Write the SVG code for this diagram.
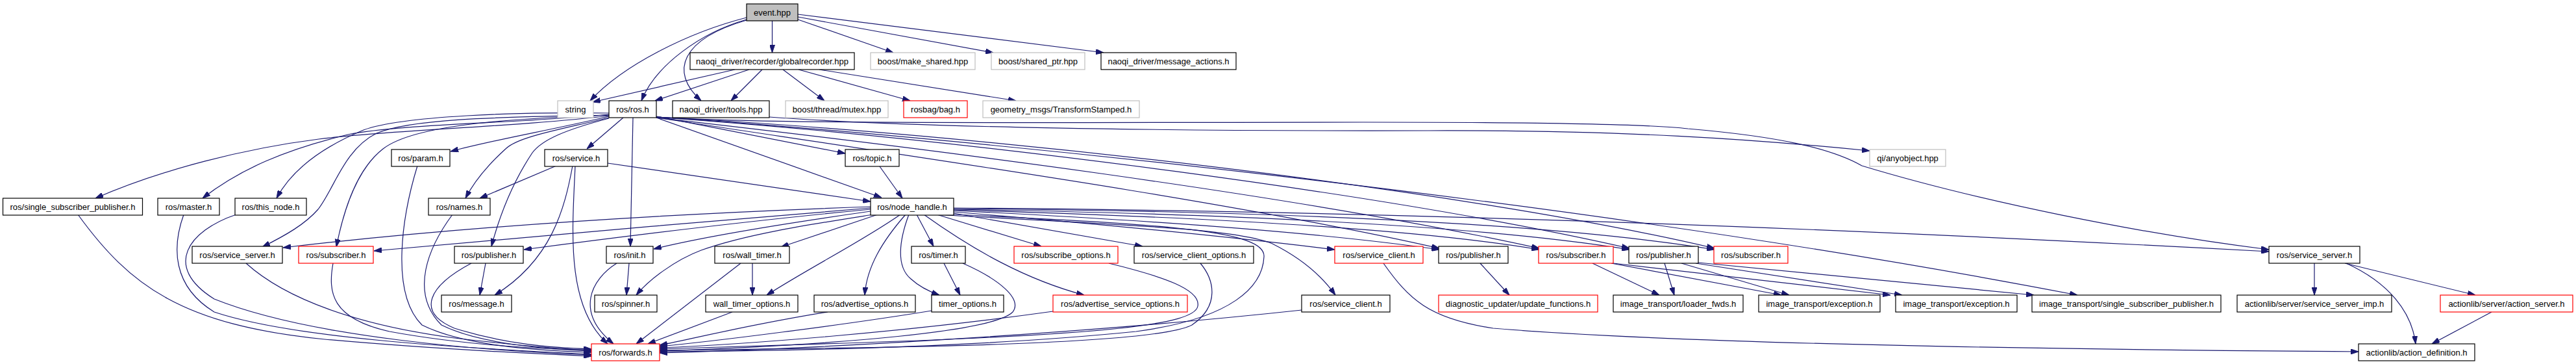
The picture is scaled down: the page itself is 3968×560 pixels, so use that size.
<svg xmlns="http://www.w3.org/2000/svg" width="3968" height="560" viewBox="0 0 3968 560">
<defs>
<marker id="ah" viewBox="0 0 12 8" refX="12" refY="4" markerWidth="12" markerHeight="8" markerUnits="userSpaceOnUse" orient="auto"><path d="M0,0 L12,4 L0,8 z" fill="#191970" stroke="#191970" stroke-width="1"/></marker>
</defs>
<style>
.n rect{fill:#fff;stroke:#000;stroke-width:1.2}
.n.g rect{stroke:#bfbfbf}
.n.r rect{stroke:#ff0000}
.n.top rect{fill:#bfbfbf}
.n text{font-family:"Liberation Sans",Arial,sans-serif;font-size:13px;fill:#000;text-anchor:middle}
#edges path{fill:none;stroke:#191970;stroke-width:1.2;marker-end:url(#ah)}
</style>
<rect width="3968" height="560" fill="#fff"/>
<g id="edges">
<path d="M1189.5,32 L1189.5,81"/>
<path d="M1150,27 C1060,50 960,100 909,155"/>
<path d="M1150,30 C1080,50 1010,100 988,155"/>
<path d="M1150,31 C1050,60 1030,110 1080,155"/>
<path d="M1229,30 L1376,81"/>
<path d="M1229,26 L1530,81"/>
<path d="M1229,22 L1700,81"/>
<path d="M1132,107 L913,157"/>
<path d="M1154,107 L1009,155"/>
<path d="M1174,107 L1126,155"/>
<path d="M1206,107 L1270,155"/>
<path d="M1230,107 L1402,155"/>
<path d="M1262,107 L1565,155"/>
<path d="M1185,180 C1400,196 1800,202 2200,201 C2500,200 2700,214 2880,232"/>
<path d="M1011,180 C1200,192 1600,188 2100,188 C2400,188 2550,192 2600,198 C2740,210 2820,228 2868,255 C3050,310 3300,360 3495,384"/>
<path d="M938,178 C800,195 600,200 491,214 C380,228 250,260 147,305"/>
<path d="M938,176 C800,190 620,190 536,207 C440,230 370,260 312,305"/>
<path d="M938,174 C800,172 620,178 560,200 C500,225 450,260 426,305"/>
<path d="M938,177 C800,180 640,180 580,205 C530,230 515,290 490,322 C470,345 440,362 404,380"/>
<path d="M938,177 C800,182 640,190 590,229 C550,260 530,320 518,380"/>
<path d="M938,179 C850,200 760,215 694,233"/>
<path d="M938,181 C860,200 800,210 780,228 C750,255 730,280 717,305"/>
<path d="M938,182 C870,200 835,215 820,235 C790,280 770,330 757,379"/>
<path d="M960,181 L904,229"/>
<path d="M975,181 L971,379"/>
<path d="M1011,181 L1358,304"/>
<path d="M1011,179 L1302,236"/>
<path d="M1011,181 C1400,240 1900,310 2217,382"/>
<path d="M1011,181 C1400,225 2000,300 2371,382"/>
<path d="M1011,180 C1500,215 2150,300 2510,382"/>
<path d="M1011,180 C1500,205 2250,290 2641,382"/>
<path d="M1011,180 C1400,205 2400,300 3200,454"/>
<path d="M1355,256 L1390,305"/>
<path d="M886,255 C882,350 870,470 936,529"/>
<path d="M882,255 C870,320 850,400 762,454"/>
<path d="M857,255 L739,305"/>
<path d="M936,251 L1341,310"/>
<path d="M1341,318 C1000,330 700,350 436,381"/>
<path d="M1341,320 C1100,340 800,365 576,386"/>
<path d="M1341,322 C1150,340 950,365 807,384"/>
<path d="M1341,325 C1200,345 1080,365 1007,383"/>
<path d="M1345,330 C1250,345 1150,360 1080,385 C1040,400 1000,430 980,454"/>
<path d="M1352,330 L1203,380"/>
<path d="M1387,330 C1330,370 1250,410 1181,454"/>
<path d="M1395,330 C1360,370 1335,410 1332,454"/>
<path d="M1400,330 C1385,370 1380,410 1403,429 C1415,440 1430,448 1447,454"/>
<path d="M1412,330 L1438,379"/>
<path d="M1423,330 C1500,385 1580,430 1670,454"/>
<path d="M1443,330 L1604,379"/>
<path d="M1469,328 L1760,379"/>
<path d="M1469,326 C1700,345 1900,365 2056,384"/>
<path d="M1469,324 C1800,340 2050,360 2217,384"/>
<path d="M1469,323 C1900,335 2200,355 2371,384"/>
<path d="M1469,322 C1950,330 2300,350 2510,384"/>
<path d="M1469,321 C2000,325 2400,345 2641,384"/>
<path d="M1469,320 C2200,325 2900,355 3495,387"/>
<path d="M1440,330 C1700,345 1900,350 1960,375 C2010,400 2040,430 2057,454"/>
<path d="M1469,330 C1800,345 1950,355 1947,395 C1945,440 1900,490 1750,510 C1500,535 1200,540 1016,541"/>
<path d="M969,405 L965,454"/>
<path d="M1159,405 L1159,454"/>
<path d="M1454,405 L1479,454"/>
<path d="M748,405 L739,454"/>
<path d="M1708,405 C1790,425 1850,445 1845,471 C1840,500 1700,515 1300,528 C1150,533 1050,536 1016,537"/>
<path d="M1849,405 C1870,430 1880,470 1836,500 C1780,530 1400,535 1016,539"/>
<path d="M1622,479 C1400,510 1150,530 1016,535"/>
<path d="M1435,478 C1300,500 1100,525 1016,533"/>
<path d="M1275,480 C1150,500 1050,525 1016,531"/>
<path d="M1483,405 C1540,430 1575,460 1560,480 C1530,510 1300,530 1016,540"/>
<path d="M1128,480 L998,529"/>
<path d="M1141,405 L980,529"/>
<path d="M2005,477 C1700,510 1300,535 1016,543"/>
<path d="M950,405 C910,430 885,480 945,529"/>
<path d="M726,405 C660,440 640,480 700,505 C780,530 850,535 911,537"/>
<path d="M697,330 C660,380 630,450 680,500 C740,530 850,538 911,540"/>
<path d="M643,255 C620,330 600,450 650,500 C720,535 850,540 911,542"/>
<path d="M283,330 C265,380 265,440 330,480 C450,520 700,535 911,545"/>
<path d="M364,330 C290,355 250,410 330,460 C480,520 750,540 911,546"/>
<path d="M120,330 C200,440 280,500 500,522 C700,540 850,545 911,548"/>
<path d="M379,405 C440,460 550,500 700,520 C800,532 880,538 911,539"/>
<path d="M513,405 C505,450 510,490 600,510 C720,532 850,538 911,538"/>
<path d="M2131,405 C2170,460 2200,490 2300,505 C2600,530 3200,538 3633,541"/>
<path d="M2280,405 L2325,454"/>
<path d="M2453,405 L2556,454"/>
<path d="M2482,405 L2744,454"/>
<path d="M2485,405 L2912,454"/>
<path d="M2564,405 L2579,454"/>
<path d="M2590,405 L2756,454"/>
<path d="M2612,405 L2930,454"/>
<path d="M2616,404 L3133,454"/>
<path d="M3565,405 L3565,454"/>
<path d="M3614,405 C3680,435 3715,480 3721,529"/>
<path d="M3612,405 L3813,454"/>
<path d="M3838,480 L3746,529"/>
</g>
<g id="n_event" class="n top"><rect x="1150" y="6" width="79" height="26"/><text x="1189.5" y="23.5">event.hpp</text></g>
<g id="n_glob" class="n"><rect x="1063" y="81" width="253" height="26"/><text x="1189.5" y="98.5">naoqi_driver/recorder/globalrecorder.hpp</text></g>
<g id="n_make" class="n g"><rect x="1341" y="81" width="161" height="26"/><text x="1421.5" y="98.5">boost/make_shared.hpp</text></g>
<g id="n_sptr" class="n g"><rect x="1527" y="81" width="144" height="26"/><text x="1599" y="98.5">boost/shared_ptr.hpp</text></g>
<g id="n_msgact" class="n"><rect x="1696" y="81" width="208" height="26"/><text x="1800" y="98.5">naoqi_driver/message_actions.h</text></g>
<g id="n_string" class="n g"><rect x="859" y="155" width="55" height="26"/><text x="886.5" y="172.5">string</text></g>
<g id="n_ros" class="n"><rect x="938" y="155" width="73" height="26"/><text x="974.5" y="172.5">ros/ros.h</text></g>
<g id="n_tools" class="n"><rect x="1036" y="155" width="149" height="26"/><text x="1110.5" y="172.5">naoqi_driver/tools.hpp</text></g>
<g id="n_mutex" class="n g"><rect x="1210" y="155" width="158" height="26"/><text x="1289" y="172.5">boost/thread/mutex.hpp</text></g>
<g id="n_bag" class="n r"><rect x="1392" y="155" width="98" height="26"/><text x="1441" y="172.5">rosbag/bag.h</text></g>
<g id="n_tf" class="n g"><rect x="1514" y="155" width="241" height="26"/><text x="1634.5" y="172.5">geometry_msgs/TransformStamped.h</text></g>
<g id="n_param" class="n"><rect x="603" y="230" width="90" height="26"/><text x="648" y="247.5">ros/param.h</text></g>
<g id="n_service" class="n"><rect x="839" y="230" width="97" height="26"/><text x="887.5" y="247.5">ros/service.h</text></g>
<g id="n_topic" class="n"><rect x="1302" y="230" width="83" height="26"/><text x="1343.5" y="247.5">ros/topic.h</text></g>
<g id="n_qi" class="n g"><rect x="2880" y="230" width="117" height="26"/><text x="2938.5" y="247.5">qi/anyobject.hpp</text></g>
<g id="n_ssp" class="n"><rect x="4.5" y="305" width="215" height="26"/><text x="112" y="322.5">ros/single_subscriber_publisher.h</text></g>
<g id="n_master" class="n"><rect x="243" y="305" width="95" height="26"/><text x="290.5" y="322.5">ros/master.h</text></g>
<g id="n_thisnode" class="n"><rect x="362" y="305" width="110" height="26"/><text x="417" y="322.5">ros/this_node.h</text></g>
<g id="n_names" class="n"><rect x="660" y="305" width="95" height="26"/><text x="707.5" y="322.5">ros/names.h</text></g>
<g id="n_nh" class="n"><rect x="1341" y="305" width="128" height="26"/><text x="1405" y="322.5">ros/node_handle.h</text></g>
<g id="n_ssrvL" class="n"><rect x="296" y="379" width="139" height="26"/><text x="365.5" y="396.5">ros/service_server.h</text></g>
<g id="n_subL" class="n r"><rect x="460" y="379" width="115" height="26"/><text x="517.5" y="396.5">ros/subscriber.h</text></g>
<g id="n_pubL" class="n"><rect x="700" y="379" width="106" height="26"/><text x="753" y="396.5">ros/publisher.h</text></g>
<g id="n_init" class="n"><rect x="934" y="379" width="72" height="26"/><text x="970" y="396.5">ros/init.h</text></g>
<g id="n_wtimer" class="n"><rect x="1101" y="379" width="115" height="26"/><text x="1158.5" y="396.5">ros/wall_timer.h</text></g>
<g id="n_timer" class="n"><rect x="1404" y="379" width="83" height="26"/><text x="1445.5" y="396.5">ros/timer.h</text></g>
<g id="n_subopt" class="n r"><rect x="1562" y="379" width="160" height="26"/><text x="1642" y="396.5">ros/subscribe_options.h</text></g>
<g id="n_scopt" class="n"><rect x="1747" y="379" width="184" height="26"/><text x="1839" y="396.5">ros/service_client_options.h</text></g>
<g id="n_sclR" class="n r"><rect x="2056" y="379" width="136" height="26"/><text x="2124" y="396.5">ros/service_client.h</text></g>
<g id="n_pub2" class="n"><rect x="2216" y="379" width="107" height="26"/><text x="2269.5" y="396.5">ros/publisher.h</text></g>
<g id="n_sub2" class="n r"><rect x="2370" y="379" width="115" height="26"/><text x="2427.5" y="396.5">ros/subscriber.h</text></g>
<g id="n_pub3" class="n"><rect x="2509" y="379" width="107" height="26"/><text x="2562.5" y="396.5">ros/publisher.h</text></g>
<g id="n_sub3" class="n r"><rect x="2640" y="379" width="114" height="26"/><text x="2697" y="396.5">ros/subscriber.h</text></g>
<g id="n_ssrvR" class="n"><rect x="3495" y="379" width="140" height="26"/><text x="3565" y="396.5">ros/service_server.h</text></g>
<g id="n_msg" class="n"><rect x="680" y="454" width="108" height="26"/><text x="734" y="471.5">ros/message.h</text></g>
<g id="n_spin" class="n"><rect x="916" y="454" width="96" height="26"/><text x="964" y="471.5">ros/spinner.h</text></g>
<g id="n_wto" class="n"><rect x="1087" y="454" width="142" height="26"/><text x="1158" y="471.5">wall_timer_options.h</text></g>
<g id="n_advo" class="n"><rect x="1254" y="454" width="156" height="26"/><text x="1332" y="471.5">ros/advertise_options.h</text></g>
<g id="n_to" class="n"><rect x="1435" y="454" width="111" height="26"/><text x="1490.5" y="471.5">timer_options.h</text></g>
<g id="n_advso" class="n r"><rect x="1622" y="454" width="207" height="26"/><text x="1725.5" y="471.5">ros/advertise_service_options.h</text></g>
<g id="n_scl" class="n"><rect x="2005" y="454" width="136" height="26"/><text x="2073" y="471.5">ros/service_client.h</text></g>
<g id="n_upd" class="n r"><rect x="2216" y="454" width="245" height="26"/><text x="2338.5" y="471.5">diagnostic_updater/update_functions.h</text></g>
<g id="n_ldr" class="n"><rect x="2485" y="454" width="200" height="26"/><text x="2585" y="471.5">image_transport/loader_fwds.h</text></g>
<g id="n_exc1" class="n"><rect x="2709" y="454" width="187" height="26"/><text x="2802.5" y="471.5">image_transport/exception.h</text></g>
<g id="n_exc2" class="n"><rect x="2920" y="454" width="187" height="26"/><text x="3013.5" y="471.5">image_transport/exception.h</text></g>
<g id="n_itssp" class="n"><rect x="3130" y="454" width="291" height="26"/><text x="3275.5" y="471.5">image_transport/single_subscriber_publisher.h</text></g>
<g id="n_ssimp" class="n"><rect x="3446" y="454" width="238" height="26"/><text x="3565" y="471.5">actionlib/server/service_server_imp.h</text></g>
<g id="n_asrv" class="n r"><rect x="3759" y="454" width="204" height="26"/><text x="3861" y="471.5">actionlib/server/action_server.h</text></g>
<g id="n_fwd" class="n r"><rect x="911" y="529" width="105" height="26"/><text x="963.5" y="546.5">ros/forwards.h</text></g>
<g id="n_adef" class="n"><rect x="3633" y="529" width="179" height="26"/><text x="3722.5" y="546.5">actionlib/action_definition.h</text></g>
</svg>
